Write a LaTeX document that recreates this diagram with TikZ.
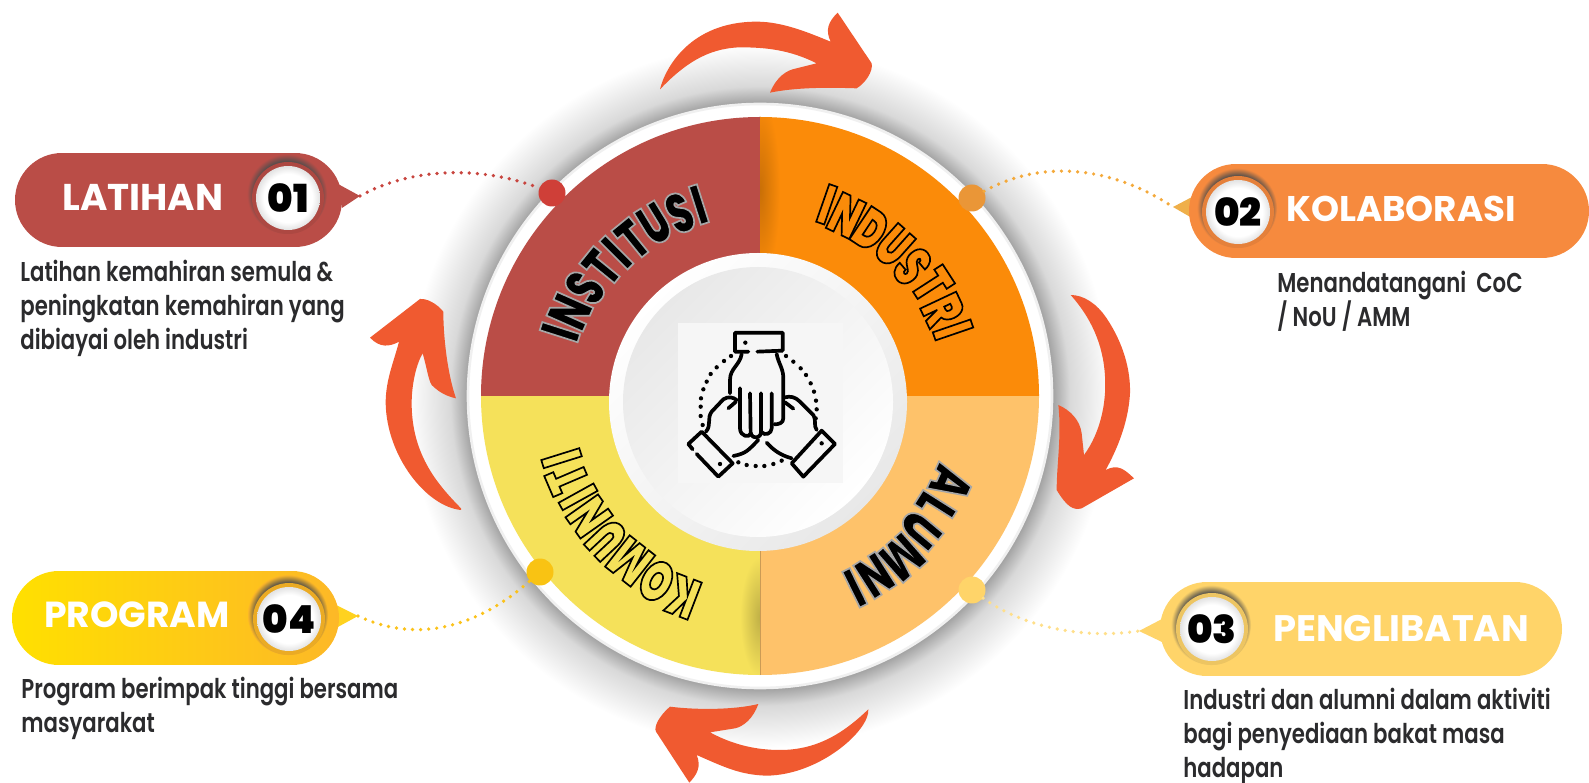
\documentclass[tikz,border=0pt]{standalone}
\usepackage{fontspec}
\usetikzlibrary{calc,positioning,shapes.misc}
\setmainfont{Poppins}
\newfontfamily\titlefont{Poppins}[UprightFont=* Bold]
\newfontfamily\numfont{Poppins}[UprightFont=* Black]
\newfontfamily\descfont{Poppins}[UprightFont=* SemiBold,FakeStretch=0.78]
\newfontfamily\ringfont{Poppins}[UprightFont=* Black,FakeStretch=0.68,FakeBold=3]
\newcommand{\inkedge}[2]{\special{pdf:code #1 G}#2}
\definecolor{instred}{HTML}{BA4D47}
\definecolor{indorange}{HTML}{FB8B09}
\definecolor{alumpeach}{HTML}{FEC26A}
\definecolor{komyellow}{HTML}{F5E15A}
\definecolor{arrowred}{HTML}{F05A30}
\definecolor{deskgray}{HTML}{2B2B2D}
\definecolor{pilltwo}{HTML}{F68A3E}
\definecolor{pillthree}{HTML}{FFD469}
\definecolor{pillfour}{HTML}{FDB827}
\definecolor{pillfourleft}{HTML}{FFE000}
\definecolor{dotone}{HTML}{CF3F38}
\definecolor{dottwo}{HTML}{EA9637}
\definecolor{dotfour}{HTML}{F9C313}
\definecolor{linkone}{HTML}{C8453F}
\definecolor{linktwo}{HTML}{F4A93A}
\definecolor{linkthree}{HTML}{FFDF8A}
\definecolor{linkfour}{HTML}{FBC21A}
\definecolor{tiptwo}{HTML}{EFAF4A}
\definecolor{tipfour}{HTML}{FFD21F}
\colorlet{pillcolor}{instred}
\pgfdeclareradialshading{ringshadow}{\pgfpoint{0bp}{0bp}}{color(0bp)=(black!38);color(20.7bp)=(black!38);color(22bp)=(black!15);color(25bp)=(white);color(50bp)=(white)}
\pgfdeclareradialshading[pillcolor]{badgeglow}{\pgfpoint{0bp}{0bp}}{color(0bp)=(black!70);color(20bp)=(black!70);color(25bp)=(pillcolor);color(50bp)=(pillcolor)}
\pgfdeclareradialshading{discface}{\pgfpoint{0bp}{0bp}}{color(0bp)=(white);color(19bp)=(white);color(25bp)=(black!11);color(50bp)=(black!11)}
\tikzset{
  x=0.02cm,y=-0.02cm,
  pill/.style={rounded rectangle,minimum width=#1*0.02cm,minimum height=1.88cm,inner sep=0pt},
  pilltitle/.style={text=white,inner sep=0pt,font=\titlefont\fontsize{#1}{24}\selectfont},
  numdisc/.style={circle,minimum size=1.28cm,inner sep=0pt,shading=discface,font=\numfont\fontsize{22}{26}\selectfont},
  desc/.style={anchor=north west,align=left,inner sep=0pt,text=deskgray,font=\descfont\fontsize{15.5}{19.4}\selectfont},
  tipdot/.style={circle,minimum size=0.54cm,inner sep=0pt},
  link/.style={line width=2.1pt,line cap=round,dash pattern=on 0pt off 4.6pt},
  curlarrow/.style={fill=arrowred},
  handline/.style={line width=2.1pt,line cap=round,line join=round},
  ringletter/.style={inner sep=0pt,font=\ringfont\fontsize{32}{32}\selectfont}
}
\begin{document}
\begin{tikzpicture}
\useasboundingbox (0,0) rectangle (1589,783);
\coordinate (hub) at (760,396);
% wheel
\shade[shading=ringshadow] (hub) circle (352);
\fill[white,draw=black!6,line width=1.5pt] (hub) circle (292);
\begin{scope}
\clip (hub) circle (279);
\fill[instred] (760,396) rectangle (470,100);
\fill[indorange] (760,396) rectangle (1050,100);
\fill[komyellow] (760,396) rectangle (470,690);
\fill[alumpeach] (760,396) rectangle (1050,690);
\begin{scope}
\clip (760,100) rectangle (800,300);
\shade[inner color=indorange!80!black,outer color=indorange] (760,190) ellipse (20 and 90);
\end{scope}
\begin{scope}
\clip (720,520) rectangle (760,690);
\shade[inner color=komyellow!78!black,outer color=komyellow] (760,617) ellipse (20 and 60);
\end{scope}
\fill[alumpeach!80!black] (759.5,396) rectangle (760.5,675);
\end{scope}
% ring words
\foreach \ltr/\ang/\rad [count=\i] in {I/162.3/210,N/156.1/208,S/148.3/206,T/140.9/204,I/135/203,T/129.1/202,U/121.5/202,S/113.7/200,I/107.7/201}
  \node[ringletter,text=black,rotate=\ang-90] (inst\i) at ($(hub)+(-\ang:\rad)$) {\inkedge{0.65}{\ltr}};
\foreach \ltr/\ang/\rad [count=\i] in {I/70.8/203,N/64.5/200,D/56.4/200,U/48.3/201,S/40.4/200,T/32.9/205,R/25.2/202,I/18.9/204}
  \node[ringletter,text=indorange,rotate=\ang-90] (ind\i) at ($(hub)+(-\ang:\rad)$) {\inkedge{0}{\ltr}};
\foreach \ltr/\ang/\rad [count=\i] in {A/-24.5/210,L/-32.3/208,U/-39.8/209,M/-48.6/215,N/-57.4/213,I/-63.7/214}
  \node[ringletter,text=black,rotate=\ang-90] (alum\i) at ($(hub)+(-\ang:\rad)$) {\inkedge{0.65}{\ltr}};
\foreach \ltr/\ang/\rad [count=\i] in {K/249/215,O/240.8/212,M/231.8/210,U/223.1/210,N/215.2/209,I/209/208,T/203.2/210,I/197.4/208}
  \node[ringletter,text=komyellow,rotate=\ang-90] (kom\i) at ($(hub)+(-\ang:\rad)$) {\inkedge{0}{\ltr}};
% centre
\shade[top color=white,bottom color=black!9,shading angle=45] (758,402) circle (149);
\shade[top color=black!9,bottom color=white,shading angle=45] (758,402) circle (135);
\fill[black!3.5] (678,323) rectangle (843,483);
\begin{scope}[shift={(600,290)},scale=1/3]
\draw[handline] (445,185) -- (405,185) -- (405,128) -- (548,128) -- (548,182) -- (472,185);
\draw[handline] (425,192) .. controls (420,225) and (390,235) .. (390,270) -- (390,310);
\draw[handline] (530,192) .. controls (535,220) and (550,235) .. (550,265) -- (550,385) .. controls (550,400) and (535,403) .. (523,403);
\draw[handline] (420,295) -- (420,415) .. controls (420,440) and (450,445) .. (452,430) -- (450,310);
\draw[handline] (452,430) .. controls (460,450) and (483,445) .. (483,425) -- (483,310);
\draw[handline] (483,425) .. controls (495,440) and (515,430) .. (515,415) -- (515,310);
\draw[handline] (318,425) .. controls (335,405) and (320,385) .. (335,365) -- (370,328) .. controls (385,318) and (400,322) .. (410,330);
\draw[handline] (385,355) -- (408,335);
\draw[handline] (400,498) .. controls (440,490) and (445,480) .. (475,450);
\draw[handline] (650,420) .. controls (640,405) and (650,395) .. (640,375) -- (600,335) .. controls (585,320) and (570,318) .. (555,322);
\draw[handline] (555,337) -- (580,356);
\draw[handline] (500,458) .. controls (520,480) and (540,495) .. (575,505);
\draw[handline] (290,492) -- (355,560) -- (398,520) -- (305,425) -- (265,462) -- (278,478);
\draw[handline] (665,422) -- (705,462) -- (610,560) -- (575,520) -- cycle;
\foreach \dx/\dy in {436/158,360/522,665/460,393/198,372/213,350/232,332/252,320/275,310/298,303/325,302/350,302/378,308/405,558/198,580/215,602/235,618/255,632/280,642/305,648/332,650/358,647/385,415/517,440/525,467/528,493/528,520/522,545/512}
  \fill (\dx,\dy) circle (6.5);
\end{scope}
% end dots and links
\node[tipdot,fill=dotone] (dot1) at (552,193) {};
\node[tipdot,fill=dottwo] (dot2) at (972,198) {};
\node[tipdot,fill=pillthree] (dot3) at (972,590) {};
\node[tipdot,fill=dotfour] (dot4) at (540,572) {};
\coordinate (tip1) at (360,196);
\coordinate (tip2) at (1173,207);
\coordinate (tip3) at (1139,631);
\coordinate (tip4) at (358,616);
\draw[link,linkone] (tip1) .. controls (410,168) and (480,165) .. (dot1);
\draw[link,linktwo] (dot2) .. controls (1040,160) and (1110,165) .. (tip2);
\draw[link,linkthree] (dot3) .. controls (1020,625) and (1080,640) .. (tip3);
\draw[link,linkfour] (tip4) .. controls (420,645) and (480,625) .. (dot4);
% pills
\fill[instred] (338,184) -- (tip1) -- (342,208) -- cycle;
\fill[tiptwo] (1192,197) -- (tip2) -- (1192,218) -- cycle;
\fill[pillthree] (1162,619) -- (tip3) -- (1162,642) -- cycle;
\fill[tipfour] (336,605) -- (tip4) -- (336,628) -- cycle;
\node[pill=327,fill=instred] (pill1) at (178.5,200) {};
\node[pill=400,fill=pilltwo] (pill2) at (1389,211) {};
\node[pill=402,fill=pillthree] (pill3) at (1361,629) {};
\node[pill=327,left color=pillfourleft,right color=pillfour] (pill4) at (175.5,618) {};
\node[pilltitle=21.2] (title1) at (143,197) {LATIHAN};
\node[pilltitle=20.3] (title2) at (1401,209) {KOLABORASI};
\node[pilltitle=21] (title3) at (1401,628) {PENGLIBATAN};
\node[pilltitle=20.6] (title4) at (137,615) {PROGRAM};
\foreach \cx/\cy/\col/\num in {288/198/instred/01,1238/212/pilltwo/02,1212/629/pillthree/03,289/619/pillfour/04}{
  \colorlet{pillcolor}{\col}
  \shade[shading=badgeglow] (\cx-1,\cy-4) circle (40);
  \fill[\col!93!black] (\cx,\cy) circle (36);
  \node[numdisc] (num\num) at (\cx,\cy) {\num};
}
% curled arrows
\fill[curlarrow,shift={(640,0)},scale=1/3] (60,268) .. controls (75,205) and (150,65) .. (350,65) .. controls (430,65) and (510,100) .. (572,125) .. controls (555,90) and (565,65) .. (593,38) -- (695,190) .. controls (700,215) and (675,250) .. (650,265) .. controls (560,262) and (470,262) .. (390,278) .. controls (410,230) and (440,210) .. (470,205) -- (530,190) .. controls (450,150) and (380,142) .. (300,142) .. controls (200,145) and (130,195) .. (60,268) -- cycle;
\fill[curlarrow,shift={(1040,280)},scale=1/3] (92,45) .. controls (130,45) and (170,70) .. (200,115) .. controls (250,190) and (272,270) .. (270,340) .. controls (265,430) and (230,510) .. (197,570) .. controls (235,550) and (255,570) .. (282,595) -- (125,685) .. controls (100,692) and (80,680) .. (50,630) .. controls (50,550) and (65,470) .. (55,375) .. controls (90,390) and (120,420) .. (125,460) -- (132,525) .. controls (180,460) and (200,370) .. (195,290) .. controls (190,190) and (150,110) .. (92,45) -- cycle;
\fill[curlarrow,shift={(640,680)},scale=1/3] (685,88) .. controls (690,150) and (540,285) .. (380,287) .. controls (300,285) and (250,260) .. (170,225) .. controls (185,260) and (170,285) .. (148,308) -- (48,155) .. controls (40,140) and (60,105) .. (90,80) .. controls (170,90) and (280,90) .. (355,72) .. controls (340,115) and (310,140) .. (285,145) -- (210,157) .. controls (280,195) and (350,210) .. (420,210) .. controls (540,210) and (620,150) .. (685,88) -- cycle;
\fill[curlarrow,shift={(360,290)},scale=1/3] (303,655) .. controls (240,590) and (155,500) .. (155,340) .. controls (155,280) and (170,220) .. (188,190) .. controls (200,230) and (205,270) .. (215,285) .. controls (240,310) and (265,320) .. (288,325) .. controls (262,250) and (250,140) .. (250,65) .. controls (230,40) and (200,25) .. (180,27) -- (30,143) .. controls (60,175) and (90,170) .. (117,155) .. controls (100,220) and (77,270) .. (77,340) .. controls (80,500) and (200,650) .. (303,660) -- cycle;
% descriptions
\node[desc] (desc1) at (20,259.5) {Latihan kemahiran semula \&\\peningkatan kemahiran yang\\dibiayai oleh industri};
\node[desc] (desc2) at (1277,270.5) {Menandatangani\ \ CoC\\/ NoU / AMM};
\node[desc] (desc3) at (1183,688) {Industri dan alumni dalam aktiviti\\bagi penyediaan bakat masa\\hadapan};
\node[desc] (desc4) at (21,677) {Program berimpak tinggi bersama\\masyarakat};
\end{tikzpicture}
\end{document}
